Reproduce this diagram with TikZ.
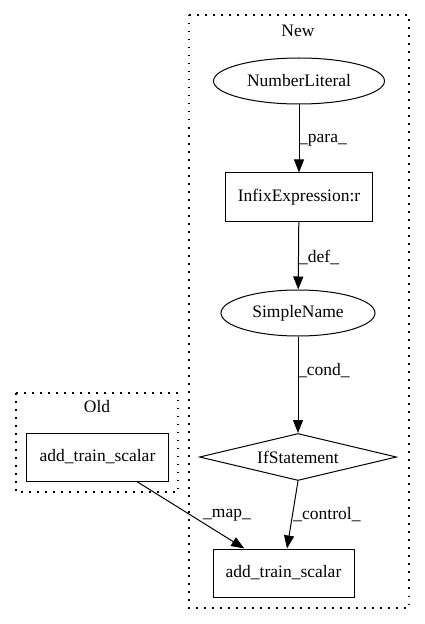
\documentclass[tikz,border=0pt]{standalone}
\usepackage{fontspec}
\setmainfont{Liberation Serif}
\usetikzlibrary{shapes.geometric,arrows.meta}
\begin{document}
\begin{tikzpicture}[x=1bp,y=-1bp,
  every node/.style={font=\fontsize{17.5bp}{20bp}\selectfont, inner sep=0pt},
  ell/.style={draw, ellipse, line width=1bp},
  boxn/.style={draw, rectangle, line width=1bp},
  dia/.style={draw, diamond, line width=1bp},
  cluster/.style={draw, line width=1.3bp, dash pattern=on 1.5bp off 6.5bp},
  edge/.style={draw, line width=1bp, -{Triangle[length=13bp,width=10bp]}},
  lbl/.style={anchor=west}]
\useasboundingbox (0,0) rectangle (424,624);
% clusters
\draw[cluster] (189,15) rectangle (409,608);
\node (newlbl) at (298,31) {New};
\draw[cluster] (16,393) rectangle (178,492);
\node (oldlbl) at (97,407) {Old};
% nodes
\node[ell, minimum width=171bp, minimum height=46bp] (num) at (299,81) {NumberLiteral};
\node[boxn, minimum width=147bp, minimum height=48bp] (infix) at (299,197) {InfixExpression:r};
\node[ell, minimum width=154bp, minimum height=46bp] (sn) at (298,313) {SimpleName};
\node[dia, minimum width=197bp, minimum height=47bp, aspect=4.2] (ifs) at (298,457) {IfStatement};
\node[boxn, minimum width=141bp, minimum height=48bp] (oldbox) at (97.5,457) {add\_train\_scalar};
\node[boxn, minimum width=141bp, minimum height=48bp] (newbox) at (283.5,573) {add\_train\_scalar};
% edges
\draw[edge] (num) -- (infix);
\node[lbl] (l1) at (299,140) {\_para\_};
\draw[edge] (infix) -- (sn);
\node[lbl] (l2) at (299,257) {\_def\_};
\draw[edge] (sn) -- (ifs);
\node[lbl] (l3) at (298,371) {\_cond\_};
\draw[edge] (oldbox) -- (newbox);
\node (l4) at (227,515) {\_map\_};
\draw[edge] (ifs.south) -- (newbox.north -| 287,0);
\node (l5) at (327,515) {\_control\_};
\end{tikzpicture}
\end{document}
